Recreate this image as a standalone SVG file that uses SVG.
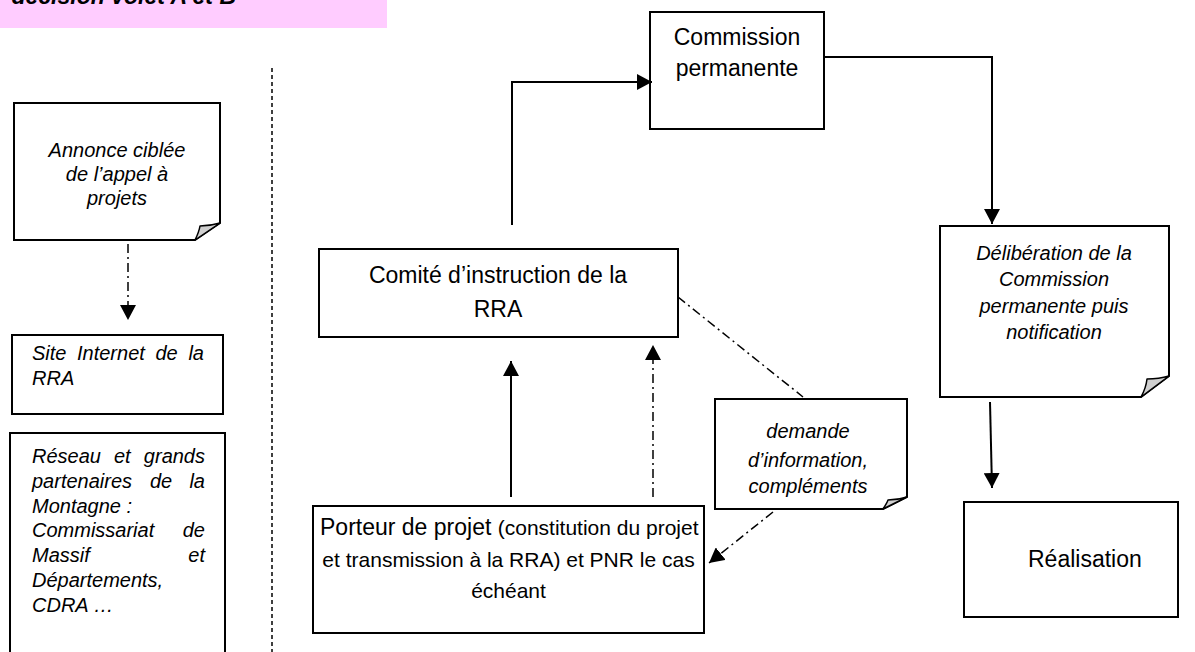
<svg xmlns="http://www.w3.org/2000/svg" width="1195" height="652" viewBox="0 0 1195 652">
<style>
.box{fill:#fff;stroke:#000;stroke-width:2}
.fold{fill:#d0d0d0;stroke:#000;stroke-width:1.5;stroke-linejoin:round}
.t{font-family:"Liberation Sans",Arial,sans-serif;font-size:23px;fill:#000}
.i{font-family:"Liberation Sans",Arial,sans-serif;font-size:20px;font-style:italic;fill:#000}
.s{font-size:21px}
.solid{fill:none;stroke:#000;stroke-width:2}
.dd{fill:none;stroke:#000;stroke-width:1.5;stroke-dasharray:9 4 2 4}
.div{fill:none;stroke:#000;stroke-width:1.5;stroke-dasharray:4 3}
</style>
<defs>
<marker id="ah" viewBox="0 0 15 16" refX="15" refY="8" markerWidth="15" markerHeight="16" markerUnits="userSpaceOnUse" orient="auto">
<path d="M0,0 L15,8 L0,16 Z" fill="#000"/>
</marker>
</defs>
<rect width="1195" height="652" fill="#fff"/>
<g id="banner">
<rect x="0" y="0" width="387" height="28" fill="#ffccff"/>
<text x="236" y="4" text-anchor="end" font-family="Liberation Sans,Arial,sans-serif" font-size="23" font-weight="bold" font-style="italic">décision volet A et B</text>
</g>
<line id="divider" class="div" x1="272" y1="68" x2="272" y2="652"/>
<g id="annonce">
<path class="box" d="M14,103 H220 V223 L195,240 H14 Z"/>
<path class="fold" d="M220,223 L195,240 Q199,232 200,226 Q210,226 220,223 Z" fill="#eee"/>
<text class="i" text-anchor="middle" x="117" y="157">Annonce ciblée</text>
<text class="i" text-anchor="middle" x="117" y="181">de l’appel à</text>
<text class="i" text-anchor="middle" x="117" y="205">projets</text>
</g>
<g id="site">
<rect class="box" x="12" y="335" width="211" height="79"/>
<text class="i" y="360"><tspan x="32">Site</tspan><tspan x="77">Internet</tspan><tspan x="155.5">de</tspan></text>
<text class="i" y="360" x="204" text-anchor="end">la</text>
<text class="i" x="32" y="385">RRA</text>
</g>
<g id="reseau">
<rect class="box" x="10" y="433" width="215" height="230"/>
<text class="i" y="463"><tspan x="32">Réseau</tspan><tspan x="114">et</tspan></text>
<text class="i" y="463" x="205" text-anchor="end">grands</text>
<text class="i" y="488"><tspan x="32">partenaires</tspan><tspan x="150">de</tspan></text>
<text class="i" y="488" x="205" text-anchor="end">la</text>
<text class="i" x="32" y="513">Montagne :</text>
<text class="i" x="32" y="537">Commissariat</text>
<text class="i" y="537" x="205" text-anchor="end">de</text>
<text class="i" x="32" y="562">Massif</text>
<text class="i" y="562" x="205" text-anchor="end">et</text>
<text class="i" x="32" y="587">Départements,</text>
<text class="i" x="32" y="612">CDRA …</text>
</g>
<g id="commission">
<rect class="box" x="650" y="12" width="174" height="117"/>
<text class="t" text-anchor="middle" x="737" y="45">Commission</text>
<text class="t" text-anchor="middle" x="737" y="76">permanente</text>
</g>
<g id="comite">
<rect class="box" x="319" y="249" width="359" height="88"/>
<text class="t" text-anchor="middle" x="498" y="283">Comité d’instruction de la</text>
<text class="t" text-anchor="middle" x="498" y="317">RRA</text>
</g>
<g id="demande">
<path class="box" d="M715,399 H907 V497 L883,509 H715 Z"/>
<path class="fold" d="M907,497 L883,509 Q887,503 888,500 Q898,500 907,497 Z"/>
<text class="i" text-anchor="middle" x="808" y="438">demande</text>
<text class="i" text-anchor="middle" x="808" y="467">d’information,</text>
<text class="i" text-anchor="middle" x="808" y="493">compléments</text>
</g>
<g id="porteur">
<rect class="box" x="313" y="506" width="391" height="127"/>
<text class="t" x="320" y="535">Porteur de projet <tspan class="s">(constitution du projet</tspan></text>
<text class="t s" text-anchor="middle" x="508.5" y="567">et transmission à la RRA) et PNR le cas</text>
<text class="t s" text-anchor="middle" x="508.5" y="598">échéant</text>
</g>
<g id="deliberation">
<path class="box" d="M940,226 H1169 V376 L1141,397 H940 Z"/>
<path class="fold" d="M1169,376 L1141,397 Q1146,388 1147,379 Q1159,379 1169,376 Z"/>
<text class="i" text-anchor="middle" x="1054" y="260">Délibération de la</text>
<text class="i" text-anchor="middle" x="1054" y="286">Commission</text>
<text class="i" text-anchor="middle" x="1054" y="313">permanente puis</text>
<text class="i" text-anchor="middle" x="1054" y="339">notification</text>
</g>
<g id="realisation">
<rect class="box" x="964" y="502" width="214" height="115"/>
<text class="t" x="1028" y="567">Réalisation</text>
</g>
<g id="connectors">
<path class="solid" d="M511,497 V361" marker-end="url(#ah)"/>
<path class="solid" d="M512,225 V82 H652" marker-end="url(#ah)"/>
<path class="solid" d="M824,57 H992 V224" marker-end="url(#ah)"/>
<path class="solid" d="M990,402 L992,488" marker-end="url(#ah)"/>
<path class="dd" d="M653,497 V345" marker-end="url(#ah)"/>
<path class="dd" d="M128,244 V320" marker-end="url(#ah)"/>
<path class="dd" d="M773,512 L709,563" marker-end="url(#ah)"/>
<path class="dd" d="M678,297 L803,397"/>
</g>
</svg>
